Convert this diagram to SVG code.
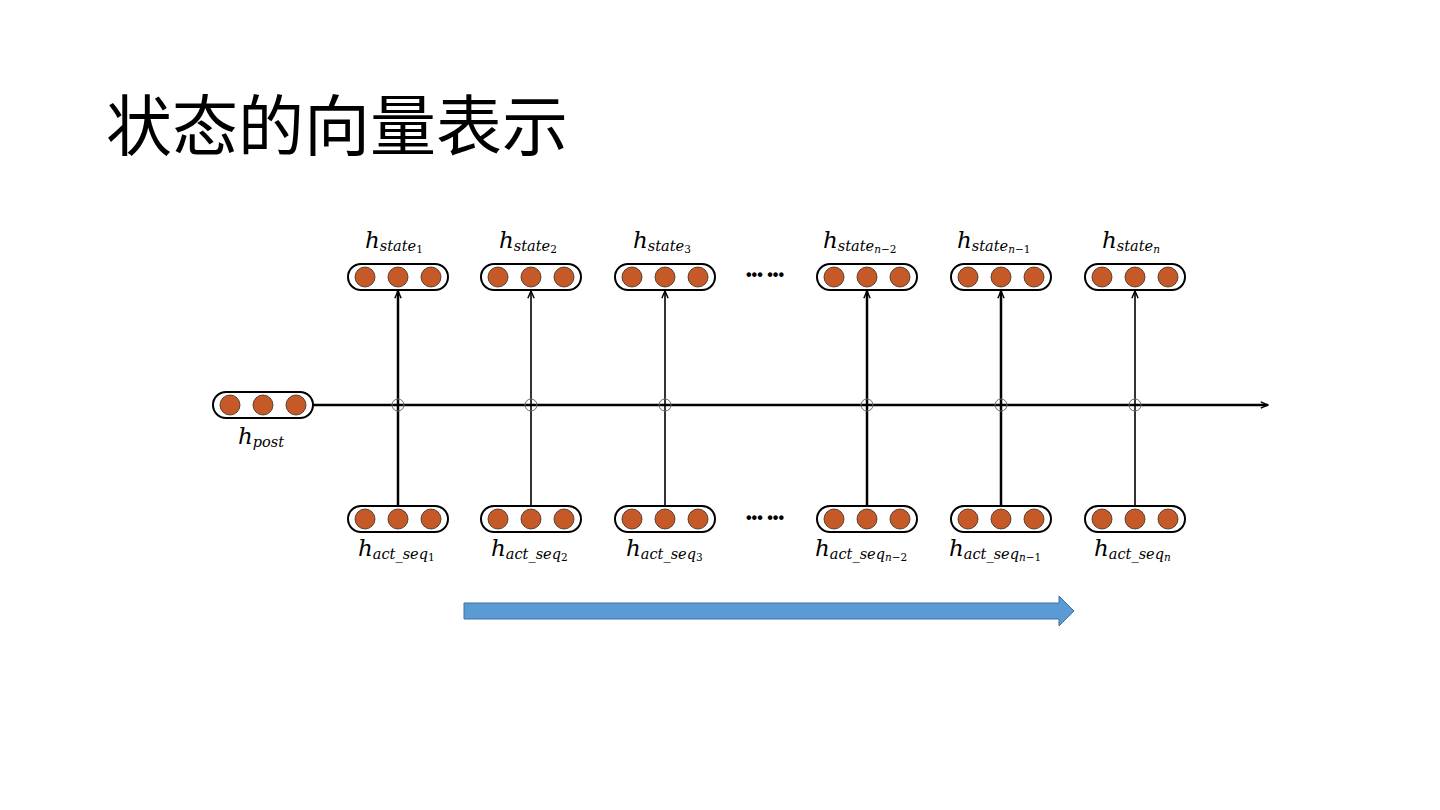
<svg xmlns="http://www.w3.org/2000/svg" width="1440" height="810" viewBox="0 0 1440 810">
<style>
.cap{fill:#fff;stroke:#000;stroke-width:2}
.dot{fill:#c55a28;stroke:#3a2a1a;stroke-width:0.8}
.lbl{font-family:"DejaVu Serif","Liberation Serif",serif;font-style:italic;font-size:23px;fill:#000}
.sub{font-size:14.5px}
.subsub{font-size:10.5px}
.ln{stroke:#000;fill:none}
.jn{fill:none;stroke:#666;stroke-width:1}
.ell{font-family:"Liberation Sans",sans-serif;font-size:16px;font-weight:bold;fill:#000}
</style>
<defs>
<marker id="ah" viewBox="0 0 10 10" refX="9" refY="5" markerWidth="9" markerHeight="9" orient="auto" markerUnits="userSpaceOnUse">
<path d="M1,1.5 L9,5 L1,8.5" fill="none" stroke="#000" stroke-width="1.6"/>
</marker>
<g id="vec">
<rect class="cap" x="-50" y="-13" width="100" height="26" rx="13"/>
<circle class="dot" cx="-33" cy="0" r="10"/>
<circle class="dot" cx="0" cy="0" r="10"/>
<circle class="dot" cx="33" cy="0" r="10"/>
</g>
</defs>
<rect width="1440" height="810" fill="#fff"/>
<text x="106" y="150" font-family="Noto Sans CJK SC, sans-serif" font-size="66" fill="#000">状态的向量表示</text>

<g id="connectors">
<line class="ln" x1="313" y1="405" x2="1268" y2="405" stroke-width="2.5" marker-end="url(#ah)"/>
<line class="ln" x1="398" y1="506" x2="398" y2="291" stroke-width="2.5" marker-end="url(#ah)"/>
<line class="ln" x1="531" y1="506" x2="531" y2="291" stroke-width="1.6" marker-end="url(#ah)"/>
<line class="ln" x1="665" y1="506" x2="665" y2="291" stroke-width="1.6" marker-end="url(#ah)"/>
<line class="ln" x1="867" y1="506" x2="867" y2="291" stroke-width="2.5" marker-end="url(#ah)"/>
<line class="ln" x1="1001" y1="506" x2="1001" y2="291" stroke-width="2.5" marker-end="url(#ah)"/>
<line class="ln" x1="1135" y1="506" x2="1135" y2="291" stroke-width="1.6" marker-end="url(#ah)"/>
<circle class="jn" cx="398" cy="405" r="6"/>
<circle class="jn" cx="531" cy="405" r="6"/>
<circle class="jn" cx="665" cy="405" r="6"/>
<circle class="jn" cx="867" cy="405" r="6"/>
<circle class="jn" cx="1001" cy="405" r="6"/>
<circle class="jn" cx="1135" cy="405" r="6"/>
</g>

<g id="post"><use href="#vec" x="263" y="405"/>
<text class="lbl" x="238" y="444">h<tspan class="sub" dy="3">post</tspan></text></g>

<g id="state1"><use href="#vec" x="398" y="277"/>
<text class="lbl" x="365" y="248">h<tspan class="sub" dy="3">state</tspan><tspan class="subsub" dy="2" font-style="normal">1</tspan></text></g>
<g id="state2"><use href="#vec" x="531" y="277"/>
<text class="lbl" x="499" y="248">h<tspan class="sub" dy="3">state</tspan><tspan class="subsub" dy="2" font-style="normal">2</tspan></text></g>
<g id="state3"><use href="#vec" x="665" y="277"/>
<text class="lbl" x="633" y="248">h<tspan class="sub" dy="3">state</tspan><tspan class="subsub" dy="2" font-style="normal">3</tspan></text></g>
<g id="stateN2"><use href="#vec" x="867" y="277"/>
<text class="lbl" x="823" y="248">h<tspan class="sub" dy="3">state</tspan><tspan class="subsub" dy="2">n</tspan><tspan class="subsub" font-style="normal">−2</tspan></text></g>
<g id="stateN1"><use href="#vec" x="1001" y="277"/>
<text class="lbl" x="957" y="248">h<tspan class="sub" dy="3">state</tspan><tspan class="subsub" dy="2">n</tspan><tspan class="subsub" font-style="normal">−1</tspan></text></g>
<g id="stateN"><use href="#vec" x="1135" y="277"/>
<text class="lbl" x="1102" y="248">h<tspan class="sub" dy="3">state</tspan><tspan class="subsub" dy="2">n</tspan></text></g>

<g id="act1"><use href="#vec" x="398" y="519"/>
<text class="lbl" x="358" y="556">h<tspan class="sub" dy="3">act_seq</tspan><tspan class="subsub" dy="2" font-style="normal">1</tspan></text></g>
<g id="act2"><use href="#vec" x="531" y="519"/>
<text class="lbl" x="491" y="556">h<tspan class="sub" dy="3">act_seq</tspan><tspan class="subsub" dy="2" font-style="normal">2</tspan></text></g>
<g id="act3"><use href="#vec" x="665" y="519"/>
<text class="lbl" x="626" y="556">h<tspan class="sub" dy="3">act_seq</tspan><tspan class="subsub" dy="2" font-style="normal">3</tspan></text></g>
<g id="actN2"><use href="#vec" x="867" y="519"/>
<text class="lbl" x="815" y="556">h<tspan class="sub" dy="3">act_seq</tspan><tspan class="subsub" dy="2">n</tspan><tspan class="subsub" font-style="normal">−2</tspan></text></g>
<g id="actN1"><use href="#vec" x="1001" y="519"/>
<text class="lbl" x="949" y="556">h<tspan class="sub" dy="3">act_seq</tspan><tspan class="subsub" dy="2">n</tspan><tspan class="subsub" font-style="normal">−1</tspan></text></g>
<g id="actN"><use href="#vec" x="1135" y="519"/>
<text class="lbl" x="1094" y="556">h<tspan class="sub" dy="3">act_seq</tspan><tspan class="subsub" dy="2">n</tspan></text></g>

<text class="ell" x="746" y="280">••• •••</text>
<text class="ell" x="746" y="523">••• •••</text>

<path d="M464,603 H1059 V596 L1074,611 L1059,626 V619 H464 Z" fill="#5b9bd5" stroke="#41719c" stroke-width="1"/>
</svg>
